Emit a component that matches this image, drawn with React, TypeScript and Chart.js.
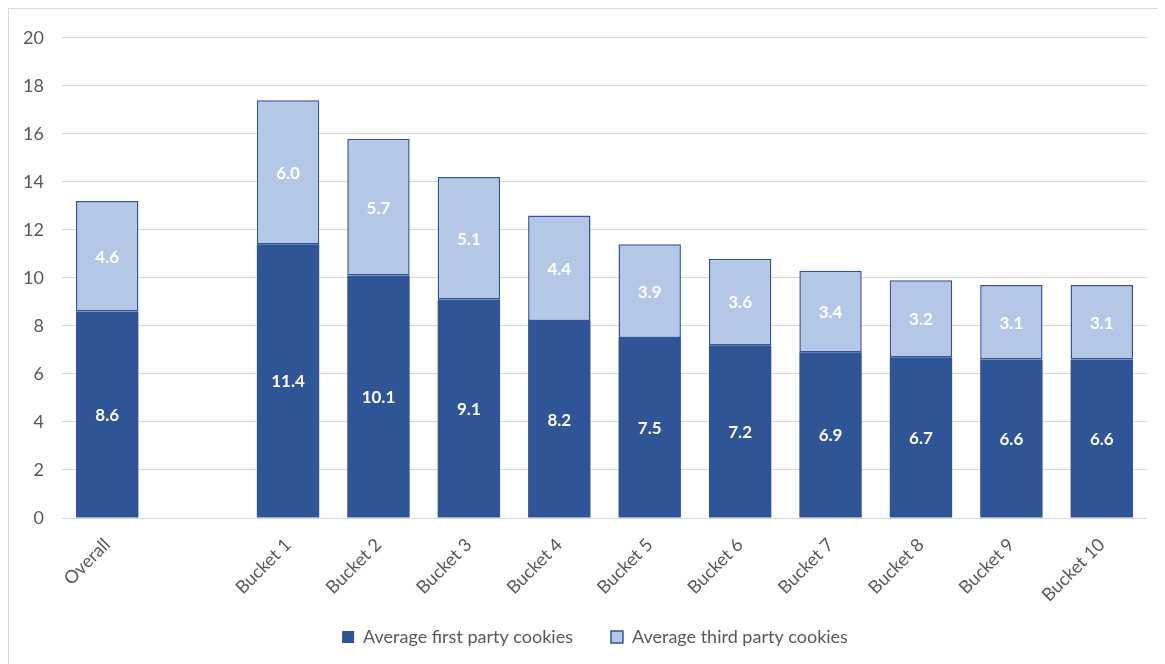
import React, { useEffect, useRef } from "react";
import { Chart, registerables } from "chart.js";

Chart.register(...registerables);

// Categories (one empty slot separates "Overall" from the buckets)
const categories: string[] = [
  "Overall",
  "",
  "Bucket 1",
  "Bucket 2",
  "Bucket 3",
  "Bucket 4",
  "Bucket 5",
  "Bucket 6",
  "Bucket 7",
  "Bucket 8",
  "Bucket 9",
  "Bucket 10",
];

const firstParty: (number | null)[] = [8.6, null, 11.4, 10.1, 9.1, 8.2, 7.5, 7.2, 6.9, 6.7, 6.6, 6.6];
const thirdParty: (number | null)[] = [4.6, null, 6.0, 5.7, 5.1, 4.4, 3.9, 3.6, 3.4, 3.2, 3.1, 3.1];

const yTicks: number[] = [0, 2, 4, 6, 8, 10, 12, 14, 16, 18, 20];

const DARK = "#2F5597";
const LIGHT = "#B4C7E7";
const FONT = "Lato, 'Open Sans', sans-serif";

const X_AXIS_HEIGHT = 88;
const LEGEND_HEIGHT = 58;
const LEGEND_TOP = 581;
const LEGEND_SHIFT_X = 17;

// Writes each segment's value in the middle of its bar segment
const segmentLabels = {
  id: "segmentLabels",
  afterDatasetsDraw(chart: any) {
    const { ctx } = chart;
    ctx.save();
    ctx.fillStyle = "#ffffff";
    ctx.font = `bold 17px ${FONT}`;
    ctx.textAlign = "center";
    ctx.textBaseline = "middle";
    chart.data.datasets.forEach((ds: any, di: number) => {
      const meta = chart.getDatasetMeta(di);
      meta.data.forEach((el: any, i: number) => {
        const v = ds.data[i];
        if (v == null) return;
        const { x, y, base } = el.getProps(["x", "y", "base"], true);
        ctx.fillText(Number(v).toFixed(1), x, (y + base) / 2 + 1);
      });
    });
    ctx.restore();
  },
};

// Keeps the legend compact and lets it sit closer under the rotated labels
const legendPlacement = {
  id: "legendPlacement",
  beforeLayout(chart: any) {
    const legend = chart.legend;
    if (legend && !legend.__fixedHeight) {
      const fit = legend.fit;
      legend.fit = function () {
        fit.call(this);
        this.height = LEGEND_HEIGHT;
      };
      legend.__fixedHeight = true;
    }
  },
  afterLayout(chart: any) {
    const legend = chart.legend;
    if (!legend) return;
    legend.top = LEGEND_TOP;
    legend.bottom = LEGEND_TOP + legend.height;
    legend.left += LEGEND_SHIFT_X;
    legend.right += LEGEND_SHIFT_X;
  },
};

export default function App() {
  const canvasRef = useRef<HTMLCanvasElement | null>(null);

  useEffect(() => {
    if (!canvasRef.current) return;
    const chart = new Chart(canvasRef.current, {
      type: "bar",
      data: {
        labels: categories,
        datasets: [
          {
            label: "Average first party cookies",
            data: firstParty,
            backgroundColor: DARK,
            borderColor: DARK,
            borderWidth: 0,
            categoryPercentage: 1,
            barPercentage: 0.69,
          },
          {
            label: "Average third party cookies",
            data: thirdParty,
            backgroundColor: LIGHT,
            borderColor: DARK,
            borderWidth: 1.5,
            borderSkipped: false,
            categoryPercentage: 1,
            barPercentage: 0.69,
          },
        ],
      },
      options: {
        animation: false,
        responsive: true,
        maintainAspectRatio: false,
        layout: { padding: { left: 0, right: 18, top: 25, bottom: 0 } },
        plugins: {
          legend: {
            position: "bottom",
            labels: {
              boxWidth: 12,
              boxHeight: 12,
              padding: 38,
              color: "#595959",
              font: { family: FONT, size: 18 },
            },
          },
          tooltip: { enabled: false },
        },
        scales: {
          x: {
            stacked: true,
            grid: { display: false },
            border: { display: false },
            ticks: {
              color: "#595959",
              font: { family: FONT, size: 18 },
              minRotation: 45,
              maxRotation: 45,
              padding: 8,
              autoSkip: false,
            },
            afterFit: (scale: any) => {
              scale.height = X_AXIS_HEIGHT;
            },
          },
          y: {
            stacked: true,
            min: 0,
            max: 20,
            afterBuildTicks: (scale: any) => {
              scale.ticks = yTicks.map((v) => ({ value: v }));
            },
            grid: { color: "#D9D9D9", lineWidth: 1, drawTicks: false },
            border: { display: false },
            ticks: {
              color: "#595959",
              font: { family: FONT, size: 18 },
              padding: 18,
            },
            afterFit: (scale: any) => {
              scale.width = 53;
            },
          },
        },
      },
      plugins: [segmentLabels, legendPlacement],
    });
    return () => chart.destroy();
  }, []);

  return (
    <div
      style={{
        width: 1157,
        height: 656,
        borderTop: "1px solid #D9D9D9",
        borderLeft: "1px solid #D9D9D9",
        boxSizing: "border-box",
        background: "#ffffff",
      }}
    >
      <div style={{ position: "relative", width: "100%", height: "100%" }}>
        <canvas ref={canvasRef} />
      </div>
    </div>
  );
}
